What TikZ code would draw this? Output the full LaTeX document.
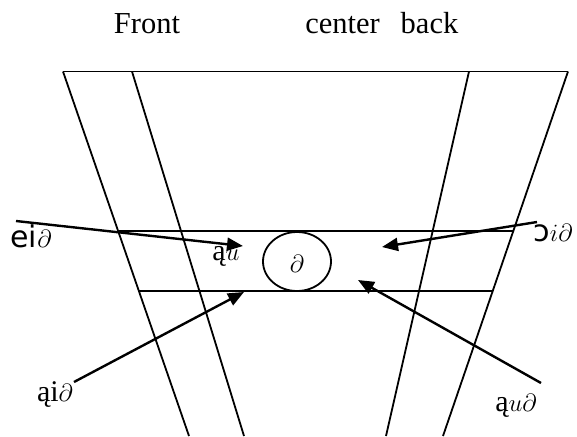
\documentclass[tikz,border=0pt]{standalone}
\usepackage{fontspec}
\setmainfont{Liberation Serif}
\newfontfamily\ipafont{DejaVu Sans}
\usetikzlibrary{arrows.meta,shapes.geometric}
\begin{document}
\begin{tikzpicture}[x=1pt,y=-1pt,
  frame/.style={line width=1.8pt},
  pointer/.style={line width=2.4pt,-{Triangle[length=16pt,width=13pt]}},
  head/.style={font=\fontsize{30.5}{34}\selectfont,inner sep=0pt,anchor=base},
  lab/.style={font=\fontsize{30}{33}\selectfont,inner sep=0pt}]
\useasboundingbox (0,0) rectangle (577,436);
% headings
\node[head] (front) at (147,33.5) {Front};
\node[head] (center) at (342.5,33.5) {center};
\node[head] (back) at (429.5,33.5) {back};
% frame corners
\coordinate (TL) at (63,71.5);
\coordinate (TIL) at (132,71.5);
\coordinate (TIR) at (469,71.5);
\coordinate (TR) at (568,71.5);
\coordinate (BL) at (189,436);
\coordinate (BIL) at (244,436);
\coordinate (BIR) at (386,436);
\coordinate (BR) at (443,436);
\draw[frame] (TL) -- (TR);
\draw[frame] (TL) -- (BL);
\draw[frame] (TIL) -- (BIL);
\draw[frame] (TIR) -- (BIR);
\draw[frame] (TR) -- (BR);
% horizontal band
\coordinate (UL) at (118,231);
\coordinate (UR) at (513,231);
\coordinate (LL) at (139,291);
\coordinate (LR) at (493,291);
\draw[frame] (UL) -- (UR);
\draw[frame] (LL) -- (LR);
% central vowel
\node[draw,line width=1.8pt,ellipse,minimum width=68pt,minimum height=59pt,inner sep=0pt] (schwa) at (297,261.5) {};
\node[lab] (schwalab) at (297,264) {$\partial$};
% labels
\node[lab] (ei) at (31,236) {{\ipafont ei}$\partial$};
\node[lab] (au) at (226,256) {ą$u$};
\node[lab] (oi) at (553,233) {{\ipafont ɔ}$i\partial$};
\node[lab] (ai) at (55,395) {ąi$\partial$};
\node[lab] (aue) at (516,406) {ą$u\partial$};
% arrow ends
\coordinate (eiS) at (16,221);
\coordinate (eiT) at (243,246);
\coordinate (oiS) at (537,222);
\coordinate (oiT) at (382,247);
\coordinate (aiS) at (74,382);
\coordinate (aiT) at (244,292);
\coordinate (aueS) at (541,383);
\coordinate (aueT) at (358,280);
\draw[pointer] (eiS) -- (eiT);
\draw[pointer] (oiS) -- (oiT);
\draw[pointer] (aiS) -- (aiT);
\draw[pointer] (aueS) -- (aueT);
\end{tikzpicture}
\end{document}
